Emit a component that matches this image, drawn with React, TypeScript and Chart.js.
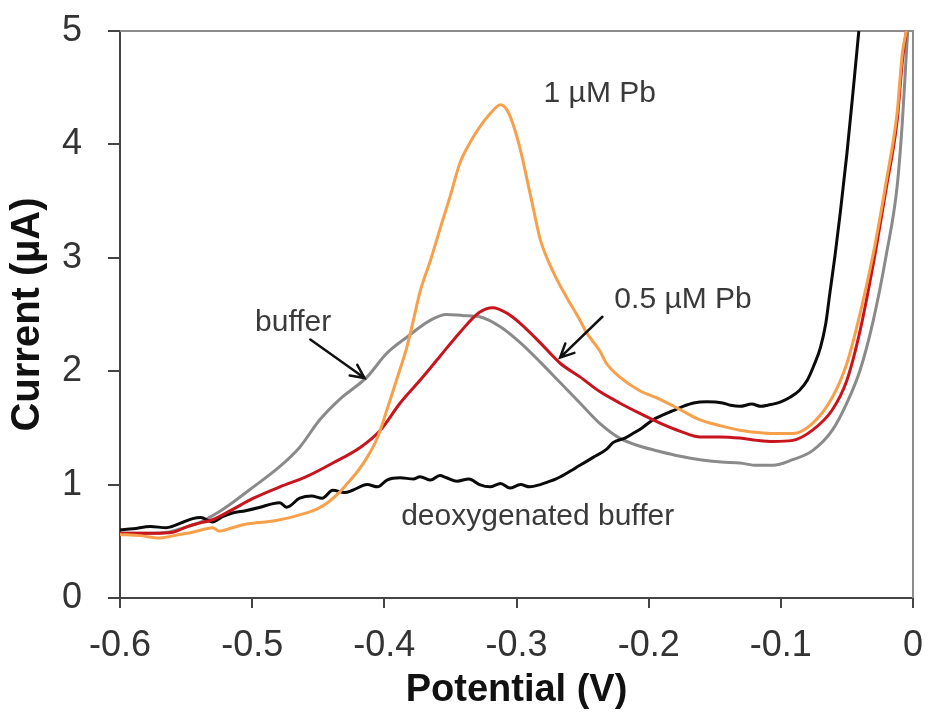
import React, { useEffect, useRef } from 'react';
import { Chart, registerables } from 'chart.js';

Chart.register(...registerables);

// Potential (V) / Current (µA)
const orangeX = [-0.600, -0.585, -0.570, -0.555, -0.545, -0.535, -0.530, -0.525, -0.515, -0.505, -0.499, -0.490, -0.479, -0.468, -0.459, -0.450, -0.443, -0.435, -0.428, -0.420, -0.413, -0.405, -0.398, -0.390, -0.383, -0.378, -0.373, -0.365, -0.358, -0.350, -0.343, -0.335, -0.328, -0.320, -0.312, -0.307, -0.303, -0.297, -0.292, -0.287, -0.282, -0.272, -0.262, -0.252, -0.247, -0.237, -0.232, -0.222, -0.207, -0.191, -0.176, -0.161, -0.146, -0.131, -0.118, -0.106, -0.091, -0.076, -0.061, -0.050, -0.040, -0.030, -0.020, -0.012, -0.008, -0.005];
const orangeY = [0.56, 0.55, 0.53, 0.56, 0.58, 0.61, 0.62, 0.59, 0.62, 0.65, 0.66, 0.67, 0.69, 0.72, 0.75, 0.79, 0.84, 0.92, 1.01, 1.12, 1.24, 1.42, 1.66, 1.95, 2.21, 2.45, 2.70, 2.98, 3.25, 3.55, 3.83, 4.02, 4.15, 4.27, 4.35, 4.30, 4.19, 3.95, 3.69, 3.42, 3.16, 2.87, 2.65, 2.45, 2.34, 2.18, 2.07, 1.95, 1.83, 1.75, 1.66, 1.57, 1.52, 1.48, 1.46, 1.45, 1.45, 1.54, 1.77, 2.07, 2.51, 3.04, 3.69, 4.28, 4.81, 5.0];

const redX = [-0.600, -0.575, -0.560, -0.549, -0.540, -0.530, -0.515, -0.499, -0.479, -0.459, -0.439, -0.418, -0.403, -0.388, -0.373, -0.358, -0.343, -0.328, -0.318, -0.307, -0.297, -0.282, -0.267, -0.252, -0.237, -0.222, -0.207, -0.191, -0.176, -0.161, -0.146, -0.131, -0.118, -0.106, -0.091, -0.076, -0.061, -0.050, -0.040, -0.030, -0.020, -0.012, -0.008, -0.005];
const redY = [0.57, 0.57, 0.58, 0.63, 0.66, 0.69, 0.78, 0.88, 0.98, 1.07, 1.19, 1.33, 1.48, 1.72, 1.92, 2.13, 2.34, 2.52, 2.56, 2.51, 2.42, 2.25, 2.07, 1.95, 1.82, 1.72, 1.63, 1.54, 1.47, 1.42, 1.42, 1.41, 1.39, 1.38, 1.39, 1.48, 1.66, 1.92, 2.36, 2.95, 3.63, 4.21, 4.74, 5.0];

const blackX = [-0.600, -0.590, -0.577, -0.565, -0.552, -0.545, -0.539, -0.530, -0.522, -0.515, -0.505, -0.494, -0.485, -0.479, -0.474, -0.464, -0.455, -0.447, -0.439, -0.430, -0.424, -0.413, -0.405, -0.398, -0.388, -0.378, -0.373, -0.365, -0.358, -0.353, -0.345, -0.336, -0.328, -0.320, -0.312, -0.305, -0.297, -0.290, -0.282, -0.277, -0.270, -0.262, -0.252, -0.242, -0.232, -0.227, -0.218, -0.212, -0.205, -0.197, -0.190, -0.182, -0.174, -0.166, -0.156, -0.144, -0.138, -0.131, -0.122, -0.115, -0.110, -0.100, -0.093, -0.086, -0.080, -0.075, -0.070, -0.066, -0.063, -0.059, -0.055, -0.050, -0.045, -0.041];
const blackY = [0.60, 0.61, 0.63, 0.62, 0.67, 0.70, 0.71, 0.67, 0.72, 0.75, 0.77, 0.80, 0.83, 0.84, 0.80, 0.88, 0.90, 0.88, 0.95, 0.93, 0.95, 1.00, 0.98, 1.04, 1.06, 1.05, 1.07, 1.04, 1.08, 1.06, 1.03, 1.05, 1.00, 0.98, 1.01, 0.97, 1.00, 0.98, 1.00, 1.02, 1.05, 1.10, 1.17, 1.24, 1.31, 1.37, 1.41, 1.45, 1.50, 1.57, 1.61, 1.65, 1.69, 1.72, 1.73, 1.72, 1.70, 1.69, 1.71, 1.69, 1.70, 1.73, 1.77, 1.83, 1.92, 2.05, 2.21, 2.42, 2.68, 3.02, 3.40, 3.92, 4.51, 5.0];

const grayX = [-0.600, -0.575, -0.564, -0.549, -0.539, -0.525, -0.515, -0.499, -0.479, -0.464, -0.449, -0.434, -0.413, -0.398, -0.383, -0.365, -0.353, -0.340, -0.328, -0.312, -0.297, -0.282, -0.267, -0.252, -0.237, -0.222, -0.207, -0.191, -0.176, -0.161, -0.145, -0.131, -0.118, -0.106, -0.091, -0.076, -0.061, -0.050, -0.040, -0.030, -0.020, -0.012, -0.008, -0.005, -0.004];
const grayY = [0.57, 0.57, 0.58, 0.63, 0.67, 0.76, 0.84, 0.98, 1.16, 1.33, 1.57, 1.75, 1.95, 2.16, 2.30, 2.45, 2.50, 2.49, 2.48, 2.39, 2.25, 2.08, 1.90, 1.72, 1.54, 1.41, 1.34, 1.29, 1.25, 1.22, 1.20, 1.19, 1.17, 1.17, 1.22, 1.30, 1.48, 1.72, 2.01, 2.45, 3.04, 3.63, 4.21, 4.81, 5.0];

const seriesNames = ['1 µM Pb', '0.5 µM Pb', 'deoxygenated buffer', 'buffer'];

// Annotation labels (data coordinates)
const labelTexts = ['1 µM Pb', '0.5 µM Pb', 'buffer', 'deoxygenated buffer'];
const labelX = [-0.237, -0.174, -0.469, -0.284];
const labelY = [4.45, 2.63, 2.43, 0.72];

// Arrows (data coordinates): from -> to
const arrowFromX = [-0.456, -0.235];
const arrowFromY = [2.28, 2.48];
const arrowToX = [-0.415, -0.267];
const arrowToY = [1.94, 2.12];

const FONT = "'Liberation Sans', Arial, Helvetica, sans-serif";

const toPoints = (xs: number[], ys: number[]) => xs.map((x, i) => ({ x, y: ys[i] }));

const zeroPad = (s: any) => {
  s.paddingTop = 0;
  s.paddingBottom = 0;
  s.paddingLeft = 0;
  s.paddingRight = 0;
};

const framePlugin = {
  id: 'frame',
  beforeDatasetsDraw(chart: any) {
    const { ctx, chartArea } = chart;
    ctx.save();
    ctx.strokeStyle = '#8c8c8c';
    ctx.lineWidth = 2;
    ctx.beginPath();
    ctx.moveTo(chartArea.left, chartArea.top);
    ctx.lineTo(chartArea.right, chartArea.top);
    ctx.lineTo(chartArea.right, chartArea.bottom);
    ctx.stroke();
    ctx.restore();
  },
};

const annotationPlugin = {
  id: 'annotations',
  afterDatasetsDraw(chart: any) {
    const { ctx } = chart;
    const xs = chart.scales.x;
    const ys = chart.scales.y;
    ctx.save();
    ctx.font = `30px ${FONT}`;
    ctx.fillStyle = '#3a3a3a';
    ctx.textAlign = 'center';
    ctx.textBaseline = 'middle';
    labelTexts.forEach((t, i) => {
      ctx.fillText(t, xs.getPixelForValue(labelX[i]), ys.getPixelForValue(labelY[i]));
    });
    ctx.strokeStyle = '#111';
    ctx.lineWidth = 2.5;
    ctx.lineCap = 'round';
    arrowFromX.forEach((_, i) => {
      const x1 = xs.getPixelForValue(arrowFromX[i]);
      const y1 = ys.getPixelForValue(arrowFromY[i]);
      const x2 = xs.getPixelForValue(arrowToX[i]);
      const y2 = ys.getPixelForValue(arrowToY[i]);
      const ang = Math.atan2(y2 - y1, x2 - x1);
      const head = 15;
      ctx.beginPath();
      ctx.moveTo(x1, y1);
      ctx.lineTo(x2, y2);
      ctx.moveTo(x2 - head * Math.cos(ang - 0.45), y2 - head * Math.sin(ang - 0.45));
      ctx.lineTo(x2, y2);
      ctx.lineTo(x2 - head * Math.cos(ang + 0.45), y2 - head * Math.sin(ang + 0.45));
      ctx.stroke();
    });
    ctx.restore();
  },
};

export default function App() {
  const ref = useRef<HTMLCanvasElement | null>(null);

  useEffect(() => {
    if (!ref.current) return;
    const mk = (label: string, xs: number[], ys: number[], color: string) => ({
      label,
      data: toPoints(xs, ys),
      borderColor: color,
      backgroundColor: color,
      borderWidth: 3,
      pointRadius: 0,
      cubicInterpolationMode: 'monotone' as const,
      fill: false,
    });
    const chart = new Chart(ref.current, {
      type: 'line',
      data: {
        datasets: [
          mk(seriesNames[0], orangeX, orangeY, '#f7a04b'),
          mk(seriesNames[1], redX, redY, '#c8141c'),
          mk(seriesNames[2], blackX, blackY, '#0a0a0a'),
          mk(seriesNames[3], grayX, grayY, '#8a8a8a'),
        ],
      },
      options: {
        responsive: false,
        animation: false,
        events: [],
        layout: { padding: { top: 31, right: 16, left: 0, bottom: 0 } },
        plugins: {
          legend: { display: false },
          tooltip: { enabled: false },
        },
        scales: {
          x: {
            type: 'linear',
            min: -0.6,
            max: 0,
            afterFit: (s: any) => { s.height = 124; zeroPad(s); },
            ticks: {
              stepSize: 0.1,
              color: '#333',
              font: { family: FONT, size: 36 },
              padding: 16,
              maxRotation: 0,
              callback: (v: any) => {
                const r = Math.round(Number(v) * 10) / 10;
                return r === 0 ? '0' : String(r);
              },
            },
            grid: { drawOnChartArea: false, color: '#444', lineWidth: 2, tickLength: 10 },
            border: { display: true, color: '#444', width: 2 },
            title: {
              display: true,
              text: 'Potential (V)',
              color: '#111',
              font: { family: FONT, size: 38, weight: 'bold' },
              padding: { top: 0, bottom: 9 },
            },
          },
          y: {
            type: 'linear',
            min: 0,
            max: 5,
            afterFit: (s: any) => { s.width = 120; zeroPad(s); },
            ticks: {
              stepSize: 1,
              color: '#333',
              font: { family: FONT, size: 36 },
              padding: 26,
            },
            grid: { drawOnChartArea: false, color: '#444', lineWidth: 2, tickLength: 12 },
            border: { display: true, color: '#444', width: 2 },
            title: {
              display: true,
              text: 'Current (µA)',
              color: '#111',
              font: { family: FONT, size: 40, weight: 'bold' },
              padding: { top: 4, bottom: 0 },
            },
          },
        },
      },
      plugins: [framePlugin, annotationPlugin],
    });
    return () => chart.destroy();
  }, []);

  return (
    <div style={{ position: 'fixed', left: 0, top: 0, width: 929, height: 722, background: '#fff' }}>
      <canvas ref={ref} width={929} height={722} style={{ display: 'block', width: 929, height: 722 }} />
    </div>
  );
}
